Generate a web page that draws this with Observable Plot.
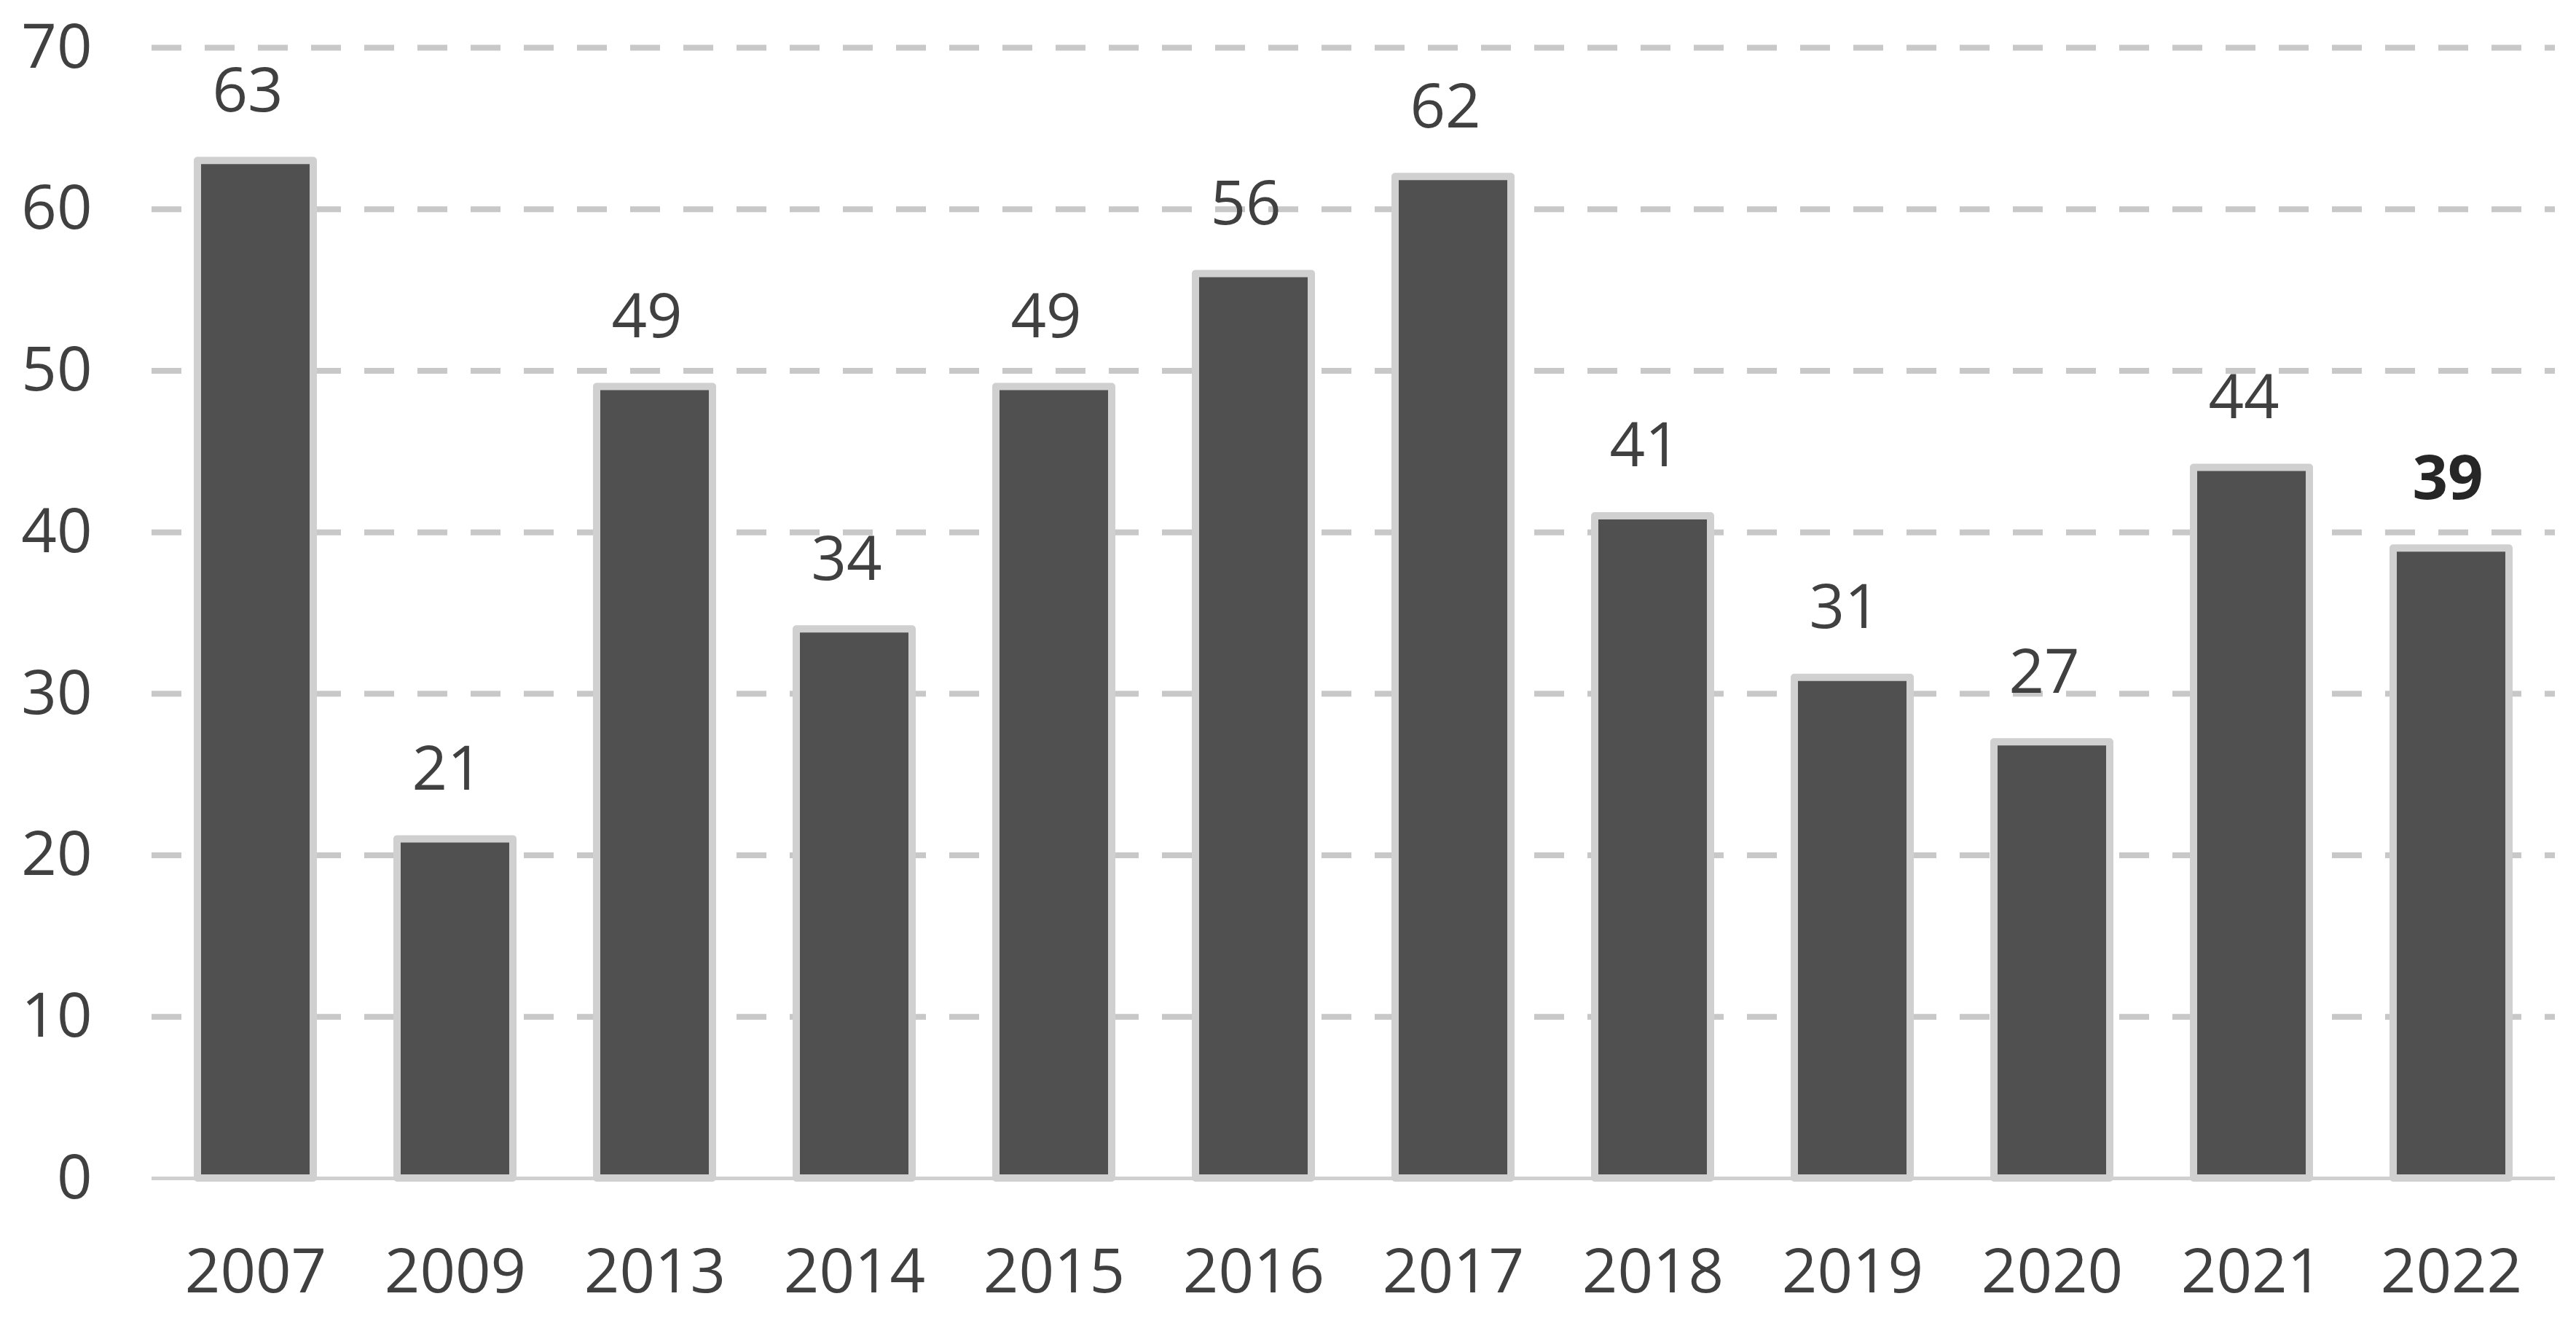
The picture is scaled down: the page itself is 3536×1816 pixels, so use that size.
<!DOCTYPE html>
<html>
<head>
<meta charset="utf-8">
<script src="https://cdn.jsdelivr.net/npm/d3@7"></script>
<script src="https://cdn.jsdelivr.net/npm/@observablehq/plot@0.6"></script>
<style>
  html, body { margin: 0; padding: 0; background: #ffffff; }
  #chart svg { display: block; }
</style>
</head>
<body>
<div id="chart"></div>
<script>
const years = ["2007", "2009", "2013", "2014", "2015", "2016", "2017", "2018", "2019", "2020", "2021", "2022"];
const values = [63, 21, 49, 34, 49, 56, 62, 41, 31, 27, 44, 39];
const yTicks = [0, 10, 20, 30, 40, 50, 60, 70];
const highlight = ["2022"];

const data = years.map((year, i) => ({year, value: values[i]}));

const chart = Plot.plot({
  width: 3536,
  height: 1816,
  marginLeft: 208,
  marginRight: 29,
  marginTop: 65,
  marginBottom: 199,
  style: {
    fontFamily: "'Open Sans', 'Noto Sans', sans-serif",
    fontSize: "85px",
    color: "#404040",
    background: "#ffffff"
  },
  x: {domain: years, paddingInner: 0.418, paddingOuter: 0.209, label: null},
  y: {domain: [0, 70], label: null},
  marks: [
    Plot.gridY(yTicks.filter(d => d > 0), {
      stroke: "#c8c8c8", strokeOpacity: 1, strokeWidth: 8, strokeDasharray: "41,32"
    }),
    Plot.ruleY([0], {stroke: "#d0d0d0", strokeWidth: 5}),
    Plot.barY(data, {
      x: "year", y: "value", fill: "#505050",
      stroke: "#d0d0d0", strokeWidth: 10, strokeLinejoin: "round"
    }),
    Plot.text(data.filter(d => !highlight.includes(d.year)), {
      x: "year", y: "value", text: d => String(d.value),
      lineAnchor: "bottom", dy: -68, dx: -11, fill: "#404040"
    }),
    Plot.text(data.filter(d => highlight.includes(d.year)), {
      x: "year", y: "value", text: d => String(d.value),
      lineAnchor: "bottom", dy: -68, dx: -5, fill: "#262626", fontWeight: "bold"
    }),
    Plot.axisY(yTicks, {tickSize: 0, tickPadding: 82, label: null}),
    Plot.axisX({tickSize: 0, tickPadding: 96, label: null})
  ]
});

document.getElementById("chart").appendChild(chart);
</script>
</body>
</html>
